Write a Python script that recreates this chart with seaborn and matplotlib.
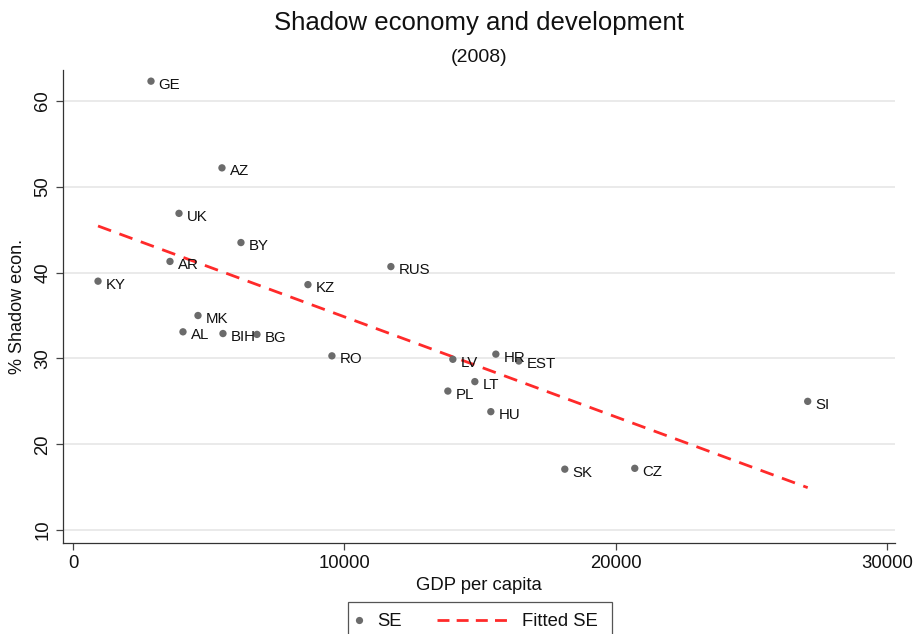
import numpy as np
import pandas as pd
import matplotlib
matplotlib.use("Agg")
import matplotlib.pyplot as plt
import seaborn as sns
from matplotlib.lines import Line2D
from matplotlib.patches import Rectangle

# Country codes, GDP per capita and shadow economy share (2008)
countries = ["GE", "AZ", "UK", "BY", "AR", "KY", "RUS", "KZ", "MK", "AL", "BIH",
             "BG", "RO", "LV", "HR", "EST", "LT", "PL", "HU", "SK", "CZ", "SI"]
gdp = [2874, 5490, 3906, 6190, 3574, 921, 11717, 8659, 4606, 4053, 5527,
       6780, 9543, 14001, 15586, 16433, 14812, 13817, 15401, 18128, 20707, 27082]
shadow = [62.3, 52.2, 46.9, 43.5, 41.3, 39.0, 40.7, 38.6, 35.0, 33.1, 32.9,
          32.8, 30.3, 29.9, 30.5, 29.7, 27.3, 26.2, 23.8, 17.1, 17.2, 25.0]

x_ticks = [0, 10000, 20000, 30000]
y_ticks = [10, 20, 30, 40, 50, 60]

df = pd.DataFrame({"country": countries, "gdp": gdp, "shadow": shadow})

sns.set_theme(style="white")
plt.rcParams["font.family"] = ["Liberation Sans", "DejaVu Sans"]

W, H = 915, 634
fig = plt.figure(figsize=(W / 100, H / 100), dpi=100)
ax = fig.add_axes([63 / W, 1 - 543 / H, (895 - 63) / W, (543 - 70) / H])


def fx(px):
    return px / W


def fy(py):
    return 1 - py / H


point_color = "#6b6b6b"
line_color = "#ff2a2a"
text_color = "#111111"
dash_style = (5, 3.2)

# Linear fit over the observed GDP range
sns.regplot(data=df, x="gdp", y="shadow", ax=ax, ci=None, scatter=False,
            line_kws=dict(color=line_color, lw=2.0, dashes=dash_style, zorder=2))
sns.scatterplot(data=df, x="gdp", y="shadow", ax=ax, color=point_color,
                s=28, edgecolor="none", zorder=3)

for c, xv, yv in zip(countries, gdp, shadow):
    ax.annotate(c, (xv, yv), xytext=(5.5, -2.5), textcoords="offset points",
                ha="left", va="center", fontsize=10.8, color=text_color, zorder=4)

ax.set_xlim(-370, 30300)
ax.set_ylim(8.5, 63.6)
ax.set_xticks(x_ticks)
ax.set_yticks(y_ticks)
ax.set_xticklabels([str(t) for t in x_ticks])
ax.set_yticklabels([str(t) for t in y_ticks])

ax.yaxis.grid(True, color="#e8e8e8", lw=1.3)
ax.xaxis.grid(False)
ax.set_axisbelow(True)

for side in ["top", "right"]:
    ax.spines[side].set_visible(False)
for side in ["left", "bottom"]:
    ax.spines[side].set_color("#333333")
    ax.spines[side].set_linewidth(0.9)

ax.tick_params(axis="both", which="major", direction="out", length=5,
               width=0.9, color="#444444", labelsize=13.3, labelcolor=text_color,
               left=True, bottom=True, pad=3.5)
ax.tick_params(axis="y", labelrotation=90)
for lab in ax.get_yticklabels():
    lab.set_va("center")
    lab.set_ha("right")

ax.set_xlabel("GDP per capita", fontsize=13.3, color=text_color, labelpad=4)
ax.set_ylabel("% Shadow econ.", fontsize=13, color=text_color, labelpad=6)

cx = (63 + 895) / 2 / W
fig.text(cx, fy(23), "Shadow economy and development", ha="center",
         va="center", fontsize=18.5, color=text_color)
fig.text(cx, fy(57), "(2008)", ha="center", va="center",
         fontsize=14, color=text_color)

# Legend box below the plot
box = Rectangle((fx(348), fy(645)), fx(612) - fx(348), fy(602) - fy(645),
                transform=fig.transFigure, facecolor="white",
                edgecolor="#555555", lw=0.9, clip_on=False)
fig.add_artist(box)
fig.add_artist(Line2D([fx(359)], [fy(620)], transform=fig.transFigure,
                      marker="o", ls="none", color=point_color,
                      markersize=5.2, markeredgewidth=0))
fig.text(fx(377), fy(621), "SE", ha="left", va="center",
         fontsize=13.3, color=text_color)
fig.add_artist(Line2D([fx(437), fx(508)], [fy(620), fy(620)],
                      transform=fig.transFigure, color=line_color, lw=2.0,
                      dashes=(4.3, 2.6)))
fig.text(fx(522), fy(621), "Fitted SE", ha="left", va="center",
         fontsize=13.3, color=text_color)

fig.savefig("out.png", dpi=100, facecolor="white")
